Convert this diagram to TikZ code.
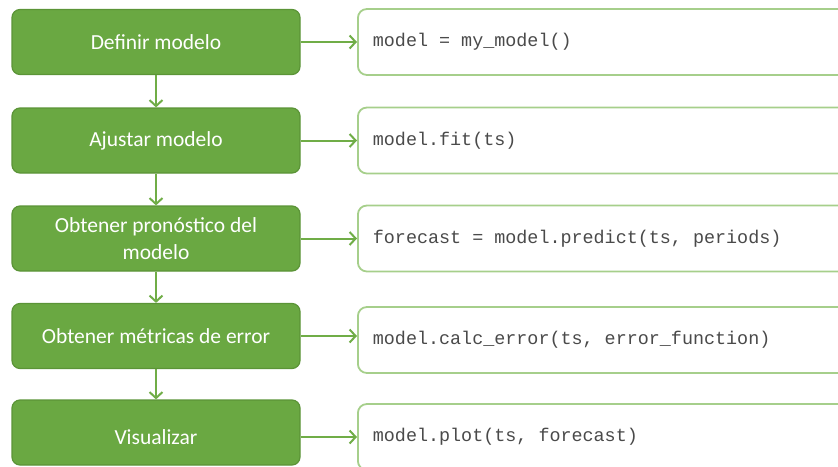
\documentclass[tikz,border=0pt]{standalone}
\usepackage{fontspec}
\setmainfont{Carlito}
\newfontfamily\codefont{Liberation Mono}
\usetikzlibrary{arrows.meta}
\definecolor{stepgreen}{HTML}{6AA842}
\definecolor{stepedge}{HTML}{5B9437}
\definecolor{codeedge}{HTML}{A6CF8B}
\definecolor{flowgreen}{HTML}{70AD47}
\definecolor{codegray}{HTML}{4A4A4A}
% one fixed-width blank in the code font
\newcommand\msp{\hbox to 0.6em{}}
\begin{document}
\begin{tikzpicture}[x=1pt,y=-1pt,
  stepbox/.style={draw=stepedge, line width=1.2pt, fill=stepgreen,
    rounded corners=8pt, minimum width=288pt, minimum height=65pt,
    text=white, font=\fontsize{21.5}{26.5}\selectfont, align=center,
    inner sep=0pt},
  codebox/.style={draw=codeedge, line width=1.8pt, fill=white,
    rounded corners=9pt, minimum height=66pt, text width=480pt,
    inner xsep=15pt, inner ysep=0pt, align=left, anchor=west,
    font=\codefont\fontsize{18.4}{22}\selectfont, text=codegray},
  flow/.style={draw=flowgreen, line width=2pt,
    -{Straight Barb[length=6pt,width=13pt]}}]
\clip (0,0) rectangle (838,466);

% process steps
\node[stepbox] (s1) at (156,42) {Definir modelo};
\node[stepbox] (s2) at (156,140.5) {Ajustar modelo};
\node[stepbox] (s3) at (156,238.5) {Obtener pronóstico del\\modelo};
\node[stepbox] (s4) at (156,336) {Obtener métricas de error};
\node[stepbox, text height=24pt, text depth=0pt] (s5) at (156,432.5) {Visualizar};

% code for each step
\node[codebox] (c1) at (357,42) {model\msp=\msp my\_model()};
\node[codebox] (c2) at (357,140.5) {model.fit(ts)};
\node[codebox] (c3) at (357,238.5) {forecast\msp=\msp model.predict(ts,\msp periods)};
\node[codebox] (c4) at (357,340) {model.calc\_error(ts,\msp error\_function)};
\node[codebox] (c5) at (357,437) {model.plot(ts,\msp forecast)};

% flow between steps
\draw[flow] (s1.south) -- (s2.north);
\draw[flow] (s2.south) -- (s3.north);
\draw[flow] (s3.south) -- (s4.north);
\draw[flow] (s4.south) -- (s5.north);

% step to code
\foreach \i in {1,...,4}
  \draw[flow] (s\i.east) -- (s\i.east -| c\i.west);
\draw[flow] (s5.east |- c5.west) -- (c5.west);
\end{tikzpicture}
\end{document}
